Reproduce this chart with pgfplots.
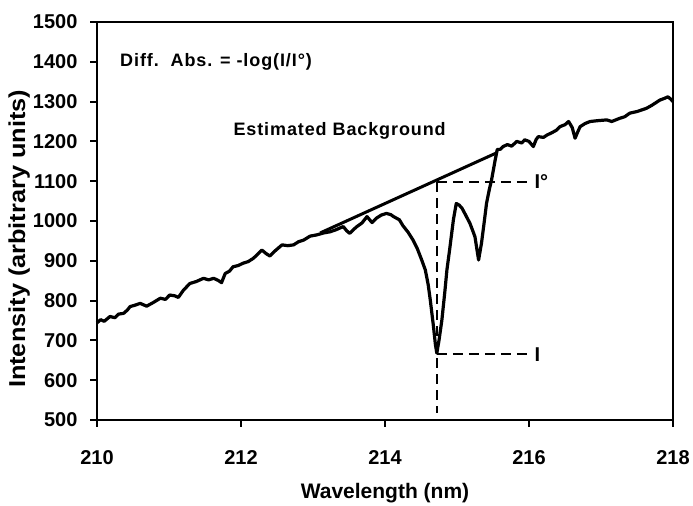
\documentclass[border=0pt]{standalone}
\usepackage{fontspec}
\setmainfont{Liberation Sans}
\newfontfamily\annfont{Liberation Sans}[LetterSpace=5]
\usepackage{graphicx}
\usepackage{pgfplots}
\pgfplotsset{compat=1.18}
\begin{document}
\begin{tikzpicture}
\begin{axis}[
  scale only axis,
  width=576pt, height=398pt,
  xmin=210, xmax=218, ymin=500, ymax=1500,
  xtick={210,212,214,216,218},
  ytick={500,600,...,1500},
  xtick pos=bottom, ytick pos=left,
  tick align=outside,
  major tick length=7pt,
  axis line style={line width=2pt},
  every tick/.style={line width=2pt, black},
  /pgf/number format/assume math mode=true,
  /pgf/number format/set thousands separator={},
  ticklabel style={font=\bfseries\fontsize{20}{22}\selectfont},
  xticklabel style={yshift=-20pt},
  yticklabel style={xshift=-9pt},
  clip=false,
  xlabel={Wavelength (nm)},
  ylabel={\scalebox{1.1}[1]{Intensity (arbitrary units)}},
  xlabel style={font=\bfseries\fontsize{21}{24}\selectfont, at={(axis description cs:0.5,-0.196)}, anchor=base},
  ylabel style={font=\bfseries\fontsize{23}{25}\selectfont, at={(axis description cs:-0.135,0.455)}, anchor=center, rotate=0},
]
\path ([shift={(-97pt,-84pt)}]axis cs:210,500) rectangle ([shift={(20pt,22pt)}]axis cs:218,1500);
\addplot[black, line width=3.2pt, line join=round] coordinates {
(210.00,744)(210.05,752)(210.10,748)(210.18,760)(210.25,757)(210.30,766)(210.37,768)
(210.42,776)(210.46,785)(210.52,788)(210.60,793)(210.69,786)(210.78,795)(210.88,806)
(210.95,803)(211.01,814)(211.08,812)(211.13,808)(211.20,826)(211.29,843)(211.38,848)
(211.48,856)(211.55,852)(211.62,856)(211.68,851)(211.73,845)(211.78,868)(211.84,874)
(211.89,885)(211.96,888)(212.03,894)(212.10,898)(212.17,906)(212.23,916)(212.29,927)
(212.35,918)(212.40,912)(212.48,926)(212.57,940)(212.65,938)(212.73,940)(212.80,948)
(212.87,952)(212.96,962)(213.05,965)(213.15,970)(213.24,973)(213.32,978)(213.42,986)
(213.47,975)(213.51,969)(213.56,978)(213.61,986)(213.68,995)(213.75,1011)(213.82,996)
(213.88,1007)(213.95,1015)(214.02,1019)(214.08,1016)(214.12,1011)(214.20,1003)(214.25,988)
(214.32,972)(214.39,952)(214.45,930)(214.51,902)(214.56,877)(214.60,840)(214.63,800)
(214.67,740)(214.70,690)(214.72,668)(214.75,700)(214.79,751)(214.83,820)(214.86,877)
(214.90,931)(214.95,1003)(214.99,1044)(215.03,1040)(215.07,1032)(215.12,1015)(215.18,994)
(215.22,975)(215.25,960)(215.28,925)(215.30,902)(215.34,944)(215.38,1000)(215.41,1044)
(215.45,1080)(215.48,1103)(215.53,1153)(215.56,1180)(215.60,1180)(215.64,1187)(215.70,1192)
(215.76,1188)(215.83,1200)(215.90,1196)(215.94,1204)(216.00,1200)(216.06,1187)(216.10,1205)
(216.13,1212)(216.20,1210)(216.25,1216)(216.32,1222)(216.38,1228)(216.43,1237)(216.50,1242)
(216.55,1250)(216.60,1235)(216.64,1208)(216.68,1225)(216.71,1237)(216.78,1245)(216.85,1250)
(216.95,1252)(217.08,1254)(217.15,1250)(217.26,1258)(217.33,1262)(217.40,1271)(217.50,1275)
(217.63,1283)(217.70,1290)(217.76,1297)(217.82,1304)(217.88,1308)(217.93,1312)(217.97,1306)
(218.00,1300)
};
% estimated background
\addplot[black, line width=3pt] coordinates {(213.1,970)(215.56,1172)};
% dashed guides
\addplot[black, line width=2pt, dash pattern=on 10pt off 6pt] coordinates {(214.72,1097)(214.72,517)};
\addplot[black, line width=2pt, dash pattern=on 10pt off 6pt] coordinates {(214.72,1097)(216.02,1097)};
\addplot[black, line width=2pt, dash pattern=on 10pt off 6pt] coordinates {(214.72,667)(216.02,667)};
\node[anchor=west, font=\bfseries\fontsize{20}{22}\selectfont] at (axis cs:216.03,1100) {I\textdegree};
\node[anchor=west, font=\bfseries\fontsize{20}{22}\selectfont] at (axis cs:216.03,664) {I};
\node[anchor=west, font=\annfont\bfseries\fontsize{18}{20}\selectfont, inner sep=0pt] at (axis cs:210.32,1400) {Diff.\ \ Abs. = -log(I/I\textdegree)};
\node[anchor=center, font=\annfont\bfseries\fontsize{18}{20}\selectfont, inner sep=0pt] at (axis cs:213.37,1226) {Estimated Background};
\end{axis}
\end{tikzpicture}
\end{document}
